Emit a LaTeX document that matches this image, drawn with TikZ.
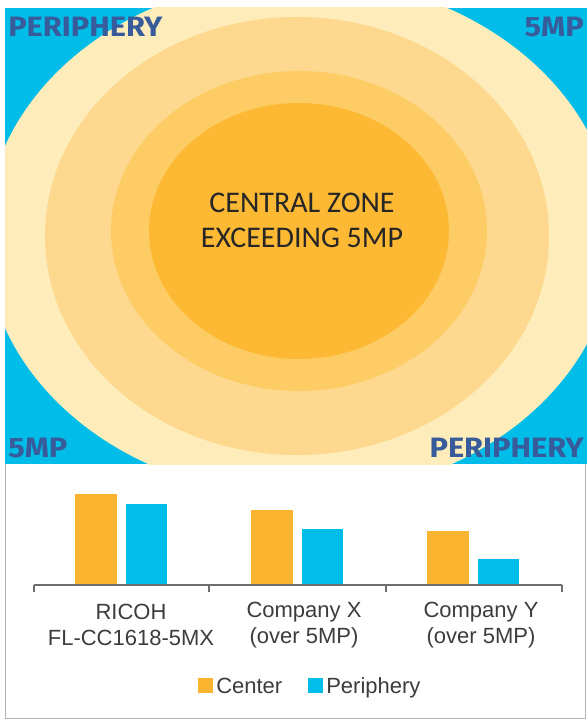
\documentclass[tikz,border=0pt]{standalone}
\usepackage{fontspec}
\setmainfont{Carlito}
\newfontfamily\cornerfont[FakeStretch=1.1]{Fira Sans}
\newfontfamily\chartfont{Liberation Sans}

\definecolor{skyblue}{HTML}{00BCE8}
\definecolor{creamring}{HTML}{FEEDBA}
\definecolor{paleorange}{HTML}{FDD88E}
\definecolor{midorange}{HTML}{FECC65}
\definecolor{coreorange}{HTML}{FDB933}
\definecolor{cornerblue}{HTML}{385B9B}
\definecolor{barorange}{HTML}{FBB42F}
\definecolor{barblue}{HTML}{00BDE9}
\definecolor{labelgray}{HTML}{3C3C3C}
\definecolor{axisgray}{HTML}{6E6E6E}
\definecolor{boxgray}{HTML}{B4B4B4}

\begin{document}
\begin{tikzpicture}[x=0.75pt,y=-0.75pt,
    corner/.style={text=cornerblue, inner sep=0pt,
        font=\cornerfont\bfseries\fontsize{21}{21}\selectfont},
    chartlabel/.style={text=labelgray, inner sep=0pt, align=center,
        font=\chartfont\fontsize{16.5}{19}\selectfont},
    legendtext/.style={text=labelgray, inner sep=0pt, anchor=base west,
        font=\chartfont\fontsize{16.5}{19}\selectfont}]
    % Marco de la imagen
    \useasboundingbox (0,0) rectangle (587,720);

    % Zonas de la imagen (recortadas al rectangulo azul)
    \begin{scope}
        \clip (5,8) rectangle (587,464);
        \fill[skyblue] (5,8) rectangle (587,464);
        \fill[creamring] (300,237) ellipse [x radius=315, y radius=259];
        \fill[paleorange] (297,236) ellipse [x radius=252, y radius=219];
        \fill[midorange] (299,231) ellipse [x radius=188, y radius=160];
        \fill[coreorange] (299,231) ellipse [x radius=150, y radius=128];
    \end{scope}

    % Texto central
    \node[text=black!85, align=center, inner sep=0pt,
        font=\fontsize{22.5}{26.25}\selectfont] (zone) at (302,220)
        {CENTRAL ZONE\\EXCEEDING 5MP};

    % Etiquetas de las esquinas
    \node[corner, anchor=base west] (perTL) at (8,37) {PERIPHERY};
    \node[corner, anchor=base east] (mpTR) at (584,37) {5MP};
    \node[corner, anchor=base west] (mpBL) at (8,457) {5MP};
    \node[corner, anchor=base east] (perBR) at (584,457) {PERIPHERY};

    % Recuadro del grafico
    \draw[boxgray] (5,464) -- (5,718) -- (585,718) -- (585,464);

    % Barras
    \fill[barorange] (75,585) rectangle (117,494);
    \fill[barblue] (126,585) rectangle (167,504);
    \fill[barorange] (251,585) rectangle (293,510);
    \fill[barblue] (302,585) rectangle (343,529);
    \fill[barorange] (427,585) rectangle (469,531);
    \fill[barblue] (478,585) rectangle (519,559);

    % Eje con marcas
    \draw[axisgray, line width=0.8pt] (34,585) -- (562,585);
    \foreach \tx in {34,209,386,562}
        \draw[axisgray, line width=0.8pt] (\tx,585) -- (\tx,592);

    % Etiquetas de los grupos
    \node[chartlabel] (ricoh) at (131,625) {RICOH\\FL-CC1618-5MX};
    \node[chartlabel] (compx) at (304,625) {Company X\\(over 5MP)};
    \node[chartlabel] (compy) at (481,625) {Company Y\\(over 5MP)};

    % Leyenda
    \fill[barorange] (198,678) rectangle (213,693);
    \node[legendtext] (center) at (216,693) {Center};
    \fill[barblue] (308,678) rectangle (323,693);
    \node[legendtext] (periph) at (326,693) {Periphery};
\end{tikzpicture}
\end{document}
